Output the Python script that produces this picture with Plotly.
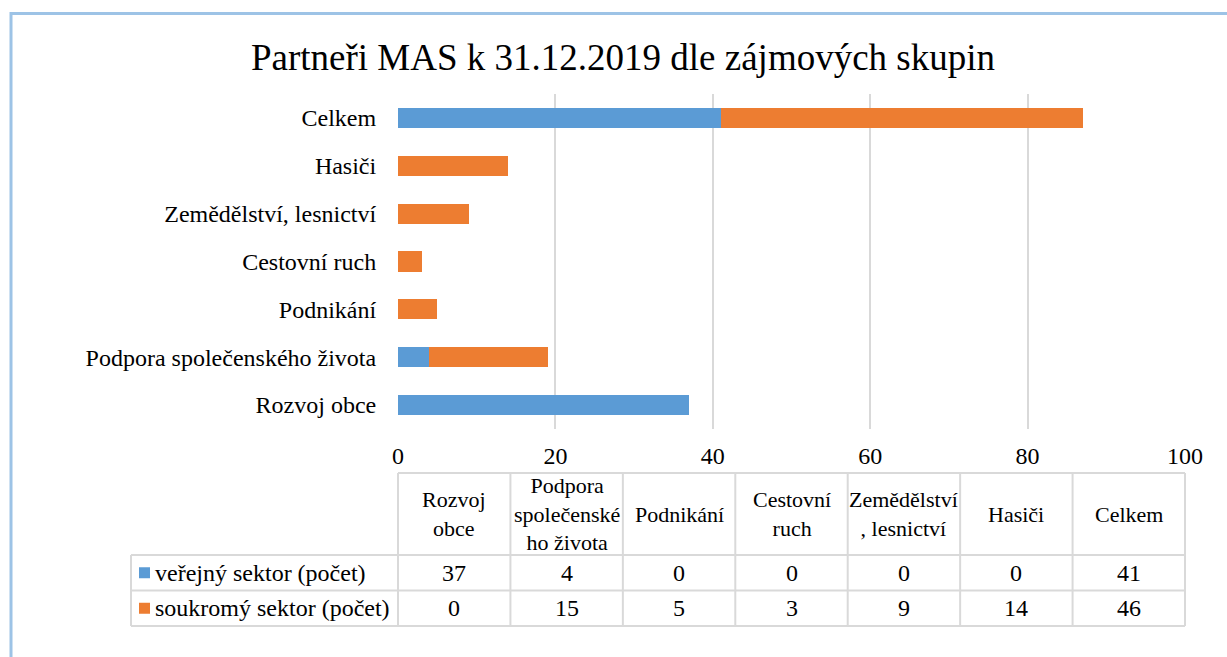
import plotly.graph_objects as go

# ---- data ----
categories = ["Rozvoj obce", "Podpora společenského života", "Podnikání",
              "Cestovní ruch", "Zemědělství, lesnictví", "Hasiči", "Celkem"]
table_headers = ["Rozvoj<br>obce", "Podpora<br>společenské<br>ho života", "Podnikání",
                 "Cestovní<br>ruch", "Zemědělství<br>, lesnictví", "Hasiči", "Celkem"]
series_names = ["veřejný sektor (počet)", "soukromý sektor (počet)"]
public_values = [37, 4, 0, 0, 0, 0, 41]
private_values = [0, 15, 5, 3, 9, 14, 46]
x_ticks = [0, 20, 40, 60, 80, 100]
chart_title = "Partneři MAS k 31.12.2019 dle zájmových skupin"

# ---- style / layout constants ----
W, H = 1227, 657
BLUE, ORANGE, GRID = "#5B9BD5", "#ED7D31", "#D9D9D9"
FRAME = "#9DC3E6"
FONT = "Liberation Serif"
PL, PR, PT, PB = 398, 1185, 94, 429            # plot area (px)
TBL_LEFT, HDR_TOP, BODY_TOP, ROW_H = 131, 473, 555, 35.5
KEY = 11                                        # legend key size (px)
n_cols = len(categories)
COL_W = (PR - PL) / n_cols


def fx(x):
    return x / W


def fy(y):
    return 1 - y / H


fig = go.Figure()
series_values = [public_values, private_values]
series_colors = [BLUE, ORANGE]
for name, vals, col in zip(series_names, series_values, series_colors):
    fig.add_bar(y=categories, x=vals, orientation="h", name=name,
                marker=dict(color=col, line=dict(width=0)))

# ---- data table (drawn under the axis, columns aligned with the plot area) ----
shapes = []
annotations = []
line_style = dict(color=GRID, width=2)
tbl_bottom = BODY_TOP + ROW_H * len(series_names)

# horizontal rules
shapes.append(dict(type="line", xref="paper", yref="paper", x0=fx(PL), x1=fx(PR),
                   y0=fy(HDR_TOP), y1=fy(HDR_TOP), line=line_style))
for r in range(len(series_names) + 1):
    y = BODY_TOP + r * ROW_H
    shapes.append(dict(type="line", xref="paper", yref="paper", x0=fx(TBL_LEFT), x1=fx(PR),
                       y0=fy(y), y1=fy(y), line=line_style))
# vertical rules
shapes.append(dict(type="line", xref="paper", yref="paper", x0=fx(TBL_LEFT), x1=fx(TBL_LEFT),
                   y0=fy(BODY_TOP), y1=fy(tbl_bottom), line=line_style))
for c in range(n_cols + 1):
    x = PL + c * COL_W
    shapes.append(dict(type="line", xref="paper", yref="paper", x0=fx(x), x1=fx(x),
                       y0=fy(HDR_TOP), y1=fy(tbl_bottom), line=line_style))

# header texts
for c, txt in enumerate(table_headers):
    annotations.append(dict(text=txt, xref="paper", yref="paper",
                            x=fx(PL + (c + 0.5) * COL_W), y=fy((HDR_TOP + BODY_TOP) / 2),
                            xanchor="center", yanchor="middle", align="center",
                            showarrow=False, font=dict(family=FONT, size=22, color="black")))

# body rows
for r, (name, vals, col) in enumerate(zip(series_names, series_values, series_colors)):
    yc = BODY_TOP + (r + 0.5) * ROW_H
    shapes.append(dict(type="rect", xref="paper", yref="paper",
                       x0=fx(TBL_LEFT + 8), x1=fx(TBL_LEFT + 8 + KEY),
                       y0=fy(yc - KEY / 2), y1=fy(yc + KEY / 2),
                       line=dict(width=0), fillcolor=col))
    annotations.append(dict(text=name, xref="paper", yref="paper",
                            x=fx(TBL_LEFT + 8 + KEY + 3), y=fy(yc),
                            xanchor="left", yanchor="middle", showarrow=False,
                            font=dict(family=FONT, size=24, color="black")))
    for c, v in enumerate(vals):
        annotations.append(dict(text=str(v), xref="paper", yref="paper",
                                x=fx(PL + (c + 0.5) * COL_W), y=fy(yc),
                                xanchor="center", yanchor="middle", showarrow=False,
                                font=dict(family=FONT, size=24, color="black")))

# chart frame (only top and left edges visible)
shapes.append(dict(type="rect", xref="paper", yref="paper",
                   x0=fx(11), x1=1.05, y0=-0.05, y1=fy(13.5),
                   line=dict(color=FRAME, width=3), fillcolor="rgba(0,0,0,0)"))

fig.update_layout(
    width=W, height=H, autosize=False,
    margin=dict(l=0, r=0, t=0, b=0, pad=0),
    paper_bgcolor="white", plot_bgcolor="white",
    barmode="stack", bargap=0.58, showlegend=False,
    font=dict(family=FONT, size=24, color="black"),
    title=dict(text=chart_title, x=fx(623), y=fy(57), xref="paper", yref="container",
               xanchor="center", yanchor="middle",
               font=dict(family=FONT, size=37, color="black")),
    xaxis=dict(domain=[fx(PL), fx(PR)], range=[0, 100], tickvals=x_ticks,
               showgrid=True, gridcolor=GRID, gridwidth=1.5, zeroline=False,
               showline=False, ticks="outside", ticklen=5, tickcolor="rgba(0,0,0,0)",
               tickfont=dict(family=FONT, size=24, color="black"),
               automargin=False, fixedrange=True),
    yaxis=dict(domain=[fy(PB), fy(PT)], type="category",
               categoryorder="array", categoryarray=categories,
               showgrid=False, zeroline=False, showline=False,
               ticks="outside", ticklen=16, tickcolor="rgba(0,0,0,0)",
               tickfont=dict(family=FONT, size=24, color="black"),
               automargin=False, fixedrange=True),
    shapes=shapes,
    annotations=annotations,
)

post = ("document.body.style.margin='0';document.body.style.overflow='hidden';"
        "var gd=document.getElementById('{plot_id}');"
        "Plotly.relayout(gd,{width:1227,height:657});")
fig.write_html("out.html", config={"responsive": False, "displayModeBar": False},
               post_script=post)
